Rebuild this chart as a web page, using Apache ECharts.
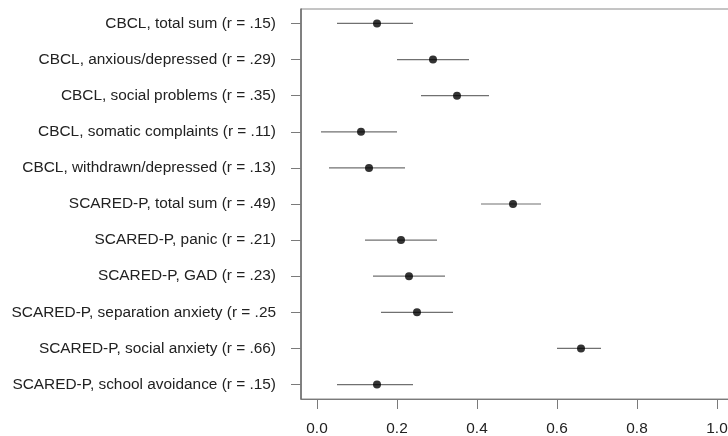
<!DOCTYPE html>
<html>
<head>
<meta charset="utf-8">
<script src="https://cdn.jsdelivr.net/npm/echarts@6/dist/echarts.min.js"></script>
<style>
html,body{margin:0;padding:0;background:#fff;}
#chart{width:728px;height:436px;}
</style>
</head>
<body>
<div id="chart"></div>
<script>
const labels = [
  "CBCL, total sum (r = .15)",
  "CBCL, anxious/depressed (r = .29)",
  "CBCL, social problems (r = .35)",
  "CBCL, somatic complaints (r = .11)",
  "CBCL, withdrawn/depressed (r = .13)",
  "SCARED-P, total sum (r = .49)",
  "SCARED-P, panic (r = .21)",
  "SCARED-P, GAD (r = .23)",
  "SCARED-P, separation anxiety (r = .25",
  "SCARED-P, social anxiety (r = .66)",
  "SCARED-P, school avoidance (r = .15)"
];
const estimates = [0.15, 0.29, 0.35, 0.11, 0.13, 0.49, 0.21, 0.23, 0.25, 0.66, 0.15];
const lower     = [0.05, 0.20, 0.26, 0.01, 0.03, 0.41, 0.12, 0.14, 0.16, 0.60, 0.05];
const upper     = [0.24, 0.38, 0.43, 0.20, 0.22, 0.56, 0.30, 0.32, 0.34, 0.71, 0.24];
const xTicks = [0, 0.2, 0.4, 0.6, 0.8, 1.0];

const rows = labels.map((_, i) => i + 1);
const font = '"Liberation Sans", Arial, sans-serif';

const chart = echarts.init(document.getElementById('chart'), null, {renderer: 'canvas'});
chart.setOption({
  animation: false,
  backgroundColor: '#ffffff',
  grid: {
    left: 301, top: 9, width: 432, height: 390,
    outerBoundsMode: 'none', containLabel: false,
    show: true, borderColor: '#8a8a8a', borderWidth: 1, backgroundColor: 'transparent'
  },
  xAxis: {
    type: 'value', min: -0.04, max: 1.04,
    splitLine: {show: false},
    axisLine: {show: true, onZero: false, lineStyle: {color: '#7a7a7a', width: 1}},
    axisTick: {show: true, length: 10, customValues: xTicks, lineStyle: {color: '#7a7a7a', width: 1}},
    axisLabel: {
      customValues: xTicks, margin: 22, fontSize: 15.4, fontFamily: font, color: '#222',
      formatter: v => Number(v).toFixed(1)
    }
  },
  yAxis: {
    type: 'value', min: 0.6, max: 11.4, inverse: true,
    splitLine: {show: false},
    axisLine: {show: true, onZero: false, lineStyle: {color: '#6a6a6a', width: 1.5}},
    axisTick: {show: true, length: 10, customValues: rows, lineStyle: {color: '#7a7a7a', width: 1}},
    axisLabel: {
      customValues: rows, margin: 25, fontSize: 15.4, fontFamily: font, color: '#222',
      formatter: v => labels[Math.round(v) - 1] || ''
    }
  },
  series: [
    {
      type: 'custom',
      data: rows.map((r, i) => [lower[i], upper[i], r]),
      renderItem: function (params, api) {
        const a = api.coord([api.value(0), api.value(2)]);
        const b = api.coord([api.value(1), api.value(2)]);
        return {
          type: 'line',
          shape: {x1: a[0], y1: a[1], x2: b[0], y2: b[1]},
          style: {stroke: '#707070', lineWidth: 1.2}
        };
      },
      clip: false,
      silent: true,
      z: 2
    },
    {
      type: 'scatter',
      data: rows.map((r, i) => [estimates[i], r]),
      symbol: 'circle',
      symbolSize: 8,
      itemStyle: {color: '#000000'},
      silent: true,
      z: 3
    }
  ]
});
</script>
</body>
</html>
